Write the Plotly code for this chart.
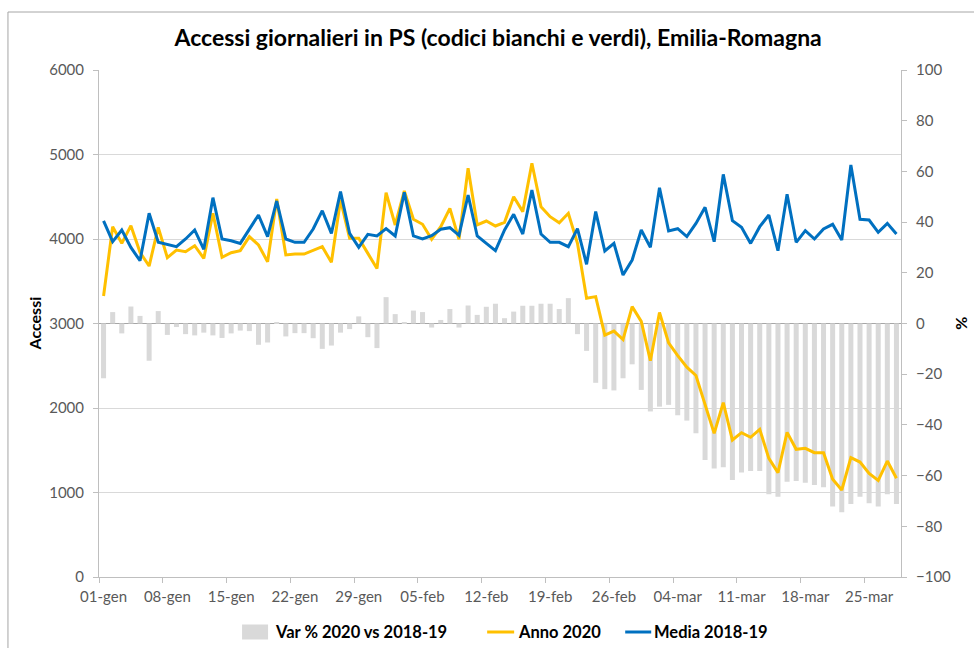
import pandas as pd
import plotly.graph_objects as go

# Giorni dal 1 gennaio al 28 marzo 2020
MESI = {1: "gen", 2: "feb", 3: "mar"}
giorni = pd.date_range("2020-01-01", "2020-03-28", freq="D")
categorie = [f"{d.day:02d}-{MESI[d.month]}" for d in giorni]

# Accessi giornalieri 2020 (codici bianchi e verdi)
anno_2020 = [
    3325, 4146, 3948, 4158, 3842, 3680, 4138, 3779, 3870, 3850,
    3921, 3771, 4304, 3783, 3838, 3862, 4028, 3929, 3731, 4473,
    3811, 3822, 3822, 3862, 3909, 3724, 4462, 4008, 4008, 3830,
    3651, 4548, 4166, 4568, 4233, 4174, 3996, 4146, 4363, 3996,
    4837, 4166, 4213, 4154, 4197, 4501, 4324, 4896, 4382, 4264,
    4193, 4304, 3950, 3300, 3318, 2862, 2910, 2810, 3200, 3025,
    2560, 3130, 2770, 2620, 2483, 2385, 2030, 1700, 2063, 1621,
    1708, 1653, 1747, 1404, 1235, 1712, 1511, 1523, 1471, 1471,
    1156, 1030, 1412, 1360, 1227, 1142, 1372, 1168,
]

# Media degli stessi giorni 2018-2019
media_2018_19 = [
    4215, 3968, 4107, 3900, 3743, 4304, 3961, 3937, 3909, 4000,
    4107, 3878, 4489, 4000, 3980, 3948, 4118, 4284, 4028, 4450,
    4000, 3961, 3961, 4118, 4335, 4067, 4560, 4067, 3901, 4055,
    4036, 4122, 4036, 4552, 4036, 4000, 4040, 4115, 4134, 4044,
    4521, 4036, 3948, 3862, 4107, 4292, 4059, 4580, 4059, 3961,
    3961, 3909, 4122, 3700, 4324, 3858, 3948, 3574, 3751, 4107,
    3901, 4607, 4095, 4122, 4028, 4185, 4375, 3968, 4765, 4217,
    4138, 3948, 4146, 4284, 3862, 4529, 3961, 4099, 4000, 4118,
    4174, 3988, 4876, 4233, 4225, 4079, 4185, 4059,
]

# Variazione percentuale 2020 rispetto alla media 2018-19
var_pct = [
    -21.6, 4.5, -3.9, 6.7, 3.0, -14.7, 4.9, -4.5, -1.4, -4.2,
    -4.7, -3.6, -4.7, -5.7, -3.9, -2.8, -3.0, -8.4, -7.5, 0.5,
    -5.1, -3.8, -3.8, -5.8, -10.0, -8.7, -3.6, -2.2, 2.8, -5.4,
    -9.7, 10.4, 3.7, 0.5, 5.1, 4.5, -1.6, 1.4, 5.7, -1.6,
    7.1, 3.4, 6.6, 7.8, 2.1, 4.7, 7.0, 7.0, 7.8, 7.8,
    5.7, 10.0, -4.2, -10.8, -23.4, -25.9, -26.4, -21.6, -16.1, -26.2,
    -34.7, -32.8, -32.1, -36.2, -38.3, -43.3, -53.8, -57.2, -56.7, -61.7,
    -58.8, -58.2, -58.2, -67.4, -68.3, -62.4, -62.1, -62.8, -63.7, -64.6,
    -72.2, -74.5, -71.2, -68.3, -70.9, -72.2, -67.4, -71.2,
]

SERIE = ["Var % 2020 vs 2018-19", "Anno 2020", "Media 2018-19"]
COLORI = ["#D9D9D9", "#FFC000", "#0070C0"]

FONT = "Lato"
GRIGIO_TESTO = "#595959"
GRIGIO_ASSE = "#BFBFBF"

# area del grafico in pixel: x 99..900.7, y 70..577
PX_L, PX_R, PX_T, PX_B = 99, 900.7, 70, 577
W_PLOT, H_PLOT = PX_R - PX_L, PX_B - PX_T


def px_x(px):
    return (px - PX_L) / W_PLOT


def px_y(py):
    return (PX_B - py) / H_PLOT


fig = go.Figure()

fig.add_trace(go.Bar(
    x=categorie, y=var_pct, name=SERIE[0],
    marker=dict(color=COLORI[0], line=dict(width=0)),
    yaxis="y",
))
fig.add_trace(go.Scatter(
    x=categorie, y=anno_2020, name=SERIE[1], mode="lines",
    line=dict(color=COLORI[1], width=3), yaxis="y2",
))
fig.add_trace(go.Scatter(
    x=categorie, y=media_2018_19, name=SERIE[2], mode="lines",
    line=dict(color=COLORI[2], width=3), yaxis="y2",
))

tick_font = dict(family=FONT, size=15, color=GRIGIO_TESTO)
leg_font = dict(family=FONT, size=16.5, color="black", weight="bold")

# legenda in basso: campione grigio per le barre, segmenti per le linee
LEG_Y = 632
annotations = [
    dict(text="<b>Accessi</b>", textangle=-90, xref="paper", yref="paper",
         x=px_x(35), y=0.5, xanchor="center", yanchor="middle",
         showarrow=False, font=dict(family=FONT, size=16, color="black")),
    dict(text="<b>%</b>", textangle=-90, xref="paper", yref="paper",
         x=px_x(960), y=0.5, xanchor="center", yanchor="middle",
         showarrow=False, font=dict(family=FONT, size=16, color="black")),
]
shapes = [
    # cornice dell'area del grafico
    dict(type="rect", xref="paper", yref="paper",
         x0=px_x(8), x1=px_x(990), y0=px_y(660), y1=px_y(12),
         line=dict(color="#A6A6A6", width=1), fillcolor="rgba(0,0,0,0)", layer="below"),
    dict(type="rect", xref="paper", yref="paper",
         x0=px_x(242), x1=px_x(268), y0=px_y(LEG_Y + 7.5), y1=px_y(LEG_Y - 7.5),
         line=dict(width=0), fillcolor=COLORI[0]),
    dict(type="line", xref="paper", yref="paper",
         x0=px_x(487), x1=px_x(514), y0=px_y(LEG_Y), y1=px_y(LEG_Y),
         line=dict(color=COLORI[1], width=3)),
    dict(type="line", xref="paper", yref="paper",
         x0=px_x(625), x1=px_x(651), y0=px_y(LEG_Y), y1=px_y(LEG_Y),
         line=dict(color=COLORI[2], width=3)),
]
for nome, x_testo in zip(SERIE, [273, 516, 652]):
    annotations.append(dict(
        text=nome, xref="paper", yref="paper", x=px_x(x_testo), y=px_y(LEG_Y),
        xanchor="left", yanchor="middle", showarrow=False, font=leg_font,
    ))

fig.update_layout(
    width=974, height=648,
    margin=dict(l=PX_L, r=974 - PX_R, t=PX_T, b=648 - PX_B, autoexpand=False),
    paper_bgcolor="white", plot_bgcolor="white",
    font=dict(family=FONT, color="black"),
    bargap=0.45,
    showlegend=False,
    title=dict(
        text="<b>Accessi giornalieri in PS (codici bianchi e verdi), Emilia-Romagna</b>",
        font=dict(family=FONT, size=23, color="black"),
        x=px_x(498), xref="paper", xanchor="center",
        y=1 - 38 / 648, yref="container", yanchor="middle",
    ),
    xaxis=dict(
        type="category", range=[-0.5, len(categorie) - 0.5],
        tickmode="linear", tick0=0, dtick=7, tickson="boundaries", tickangle=0,
        ticks="outside", ticklen=5, tickcolor=GRIGIO_ASSE,
        showline=True, linecolor=GRIGIO_ASSE, linewidth=1,
        showgrid=False, tickfont=tick_font, ticklabelstandoff=6, automargin=False,
    ),
    yaxis=dict(
        side="right", range=[-100, 100], tickmode="linear", tick0=-100, dtick=20,
        ticks="outside", ticklen=5, tickcolor=GRIGIO_ASSE,
        showline=True, linecolor=GRIGIO_ASSE, linewidth=1,
        showgrid=False, zeroline=True, zerolinecolor="#A6A6A6", zerolinewidth=1,
        tickfont=tick_font, ticklabelstandoff=6, automargin=False,
    ),
    yaxis2=dict(
        overlaying="y", side="left", range=[0, 6000], tickmode="linear", tick0=0, dtick=1000,
        ticks="outside", ticklen=5, tickcolor=GRIGIO_ASSE,
        showline=True, linecolor=GRIGIO_ASSE, linewidth=1,
        showgrid=True, gridcolor="#D9D9D9", gridwidth=1, zeroline=False,
        tickfont=tick_font, ticklabelstandoff=6, automargin=False,
    ),
    annotations=annotations,
    shapes=shapes,
)

fig.write_html("out.html")
